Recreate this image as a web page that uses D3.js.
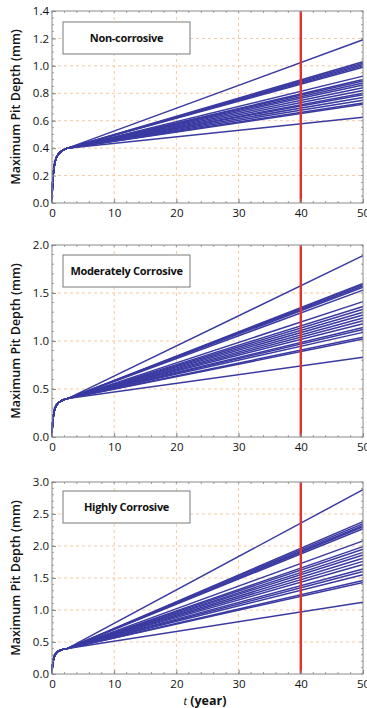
<!DOCTYPE html>
<html>
<head>
<meta charset="utf-8">
<script src="https://cdn.jsdelivr.net/npm/d3@7"></script>
<style>
  html, body { margin: 0; padding: 0; background: #fff; }
  svg { display: block; }
  text { font-family: "Open Sans", "Noto Sans", sans-serif; }
</style>
</head>
<body>
<svg id="chart" width="367" height="708"></svg>
<script>
// ---- Data ----
const panelTitles = ["Non-corrosive", "Moderately Corrosive", "Highly Corrosive"];
const xTicks = [0, 10, 20, 30, 40, 50];
const yMaxes = [1.4, 2.0, 3.0];
const yTicksTop = [0.0, 0.2, 0.4, 0.6, 0.8, 1.0, 1.2, 1.4];
const yTicksMid = [0.0, 0.5, 1.0, 1.5, 2.0];
const yTicksBot = [0.0, 0.5, 1.0, 1.5, 2.0, 2.5, 3.0];
const markerYear = 40;

// common initial (pit-initiation) portion of every curve
const earlyT     = [0, 0.03, 0.07, 0.12, 0.2, 0.3, 0.4, 0.5, 0.65, 0.8, 1.0, 1.25, 1.5, 1.75, 2.0, 2.5];
const earlyDepth = [0, 0.07, 0.12, 0.16, 0.21, 0.25, 0.28, 0.30, 0.325, 0.34, 0.355, 0.367, 0.377, 0.385, 0.391, 0.40];
const endYear = 50;
// depth at t = 50 years for each curve
const nonCorrosiveEnd = [1.19, 1.03, 1.02, 1.01, 1.00, 0.99, 0.925, 0.90, 0.89, 0.875,
                         0.86, 0.84, 0.82, 0.80, 0.79, 0.77, 0.75, 0.73, 0.72, 0.625];
const moderatelyEnd   = [1.89, 1.60, 1.59, 1.575, 1.56, 1.53, 1.41, 1.36, 1.33, 1.30,
                         1.27, 1.24, 1.21, 1.18, 1.14, 1.12, 1.09, 1.04, 1.02, 0.83];
const highlyEnd       = [2.88, 2.38, 2.35, 2.32, 2.30, 2.27, 2.08, 1.99, 1.95, 1.90,
                         1.86, 1.81, 1.76, 1.71, 1.64, 1.60, 1.55, 1.46, 1.43, 1.12];

const panelEnds = [nonCorrosiveEnd, moderatelyEnd, highlyEnd];
const panelYTicks = [yTicksTop, yTicksMid, yTicksBot];
const panelMinorStep = [0.05, 0.1, 0.1];

// ---- Layout ----
const svg = d3.select("#chart");
const left = 52, right = 363;
const panelTop = [11, 245, 482];
const panelH = 192;
const lineColor = "#3a3aa2";
const gridColor = "#f0c49a";
const frameColor = "#8a8a8a";

const x = d3.scaleLinear().domain([0, 50]).range([left, right]);

panelTitles.forEach((title, i) => {
  const top = panelTop[i], bottom = top + panelH;
  const y = d3.scaleLinear().domain([0, yMaxes[i]]).range([bottom, top]);
  const g = svg.append("g");

  // grid
  g.selectAll(".gx").data(xTicks.filter(t => t > 0 && t < 50)).join("line")
    .attr("x1", d => x(d)).attr("x2", d => x(d)).attr("y1", top).attr("y2", bottom)
    .attr("stroke", gridColor).attr("stroke-width", 0.9).attr("stroke-dasharray", "3,3");
  g.selectAll(".gy").data(panelYTicks[i].filter(t => t > 0 && t < yMaxes[i])).join("line")
    .attr("x1", left).attr("x2", right).attr("y1", d => y(d)).attr("y2", d => y(d))
    .attr("stroke", gridColor).attr("stroke-width", 0.9).attr("stroke-dasharray", "3,3");

  // curves
  const line = d3.line().x(d => x(d[0])).y(d => y(d[1])).curve(d3.curveLinear);
  const series = panelEnds[i].map(v => earlyT.map((t, k) => [t, earlyDepth[k]]).concat([[endYear, v]]));
  g.selectAll(".curve").data(series).join("path")
    .attr("d", line).attr("fill", "none")
    .attr("stroke", lineColor).attr("stroke-width", 1.5).attr("stroke-linejoin", "round");

  // red marker line
  g.append("line")
    .attr("x1", x(markerYear)).attr("x2", x(markerYear)).attr("y1", top).attr("y2", bottom)
    .attr("stroke", "#e2302e").attr("stroke-width", 2.4);

  // frame
  g.append("rect").attr("x", left).attr("y", top).attr("width", right - left).attr("height", panelH)
    .attr("fill", "none").attr("stroke", frameColor).attr("stroke-width", 1);

  // axes (ticks inward)
  const xMinor = d3.range(0, 50.001, 2);
  const yMinor = d3.range(0, yMaxes[i] + 1e-6, panelMinorStep[i]);
  const axB = d3.axisBottom(x).tickValues(xTicks).tickSize(-4).tickPadding(6).tickFormat(d3.format("d"));
  const gb = g.append("g").attr("transform", `translate(0,${bottom})`).call(axB);
  const axL = d3.axisLeft(y).tickValues(panelYTicks[i]).tickSize(-4).tickPadding(3).tickFormat(d3.format(".1f"));
  const gl = g.append("g").attr("transform", `translate(${left},0)`).call(axL);
  [gb, gl].forEach(a => {
    a.select(".domain").remove();
    a.selectAll(".tick line").attr("stroke", frameColor);
    a.selectAll("text").attr("font-size", 11.5).attr("fill", "#111");
  });
  // minor ticks on all sides
  const mt = g.append("g").attr("stroke", frameColor).attr("stroke-width", 0.8);
  mt.selectAll(".mb").data(xMinor).join("line")
    .attr("x1", d => x(d)).attr("x2", d => x(d)).attr("y1", bottom).attr("y2", bottom - 2);
  mt.selectAll(".mt").data(xMinor).join("line")
    .attr("x1", d => x(d)).attr("x2", d => x(d)).attr("y1", top).attr("y2", top + 2);
  mt.selectAll(".ml").data(yMinor).join("line")
    .attr("x1", left).attr("x2", left + 2).attr("y1", d => y(d)).attr("y2", d => y(d));
  mt.selectAll(".mr").data(yMinor).join("line")
    .attr("x1", right).attr("x2", right - 2).attr("y1", d => y(d)).attr("y2", d => y(d));

  // y-axis title
  g.append("text")
    .attr("transform", `translate(20,${top + panelH / 2}) rotate(-90)`)
    .attr("text-anchor", "middle").attr("font-size", 12.5).attr("font-weight", 600).attr("fill", "#111")
    .text("Maximum Pit Depth (mm)");

  // legend box
  const boxY = [22, 255, 491][i];
  g.append("rect").attr("x", 63).attr("y", boxY).attr("width", 127).attr("height", 32)
    .attr("fill", "#fff").attr("stroke", "#7a7a7a").attr("stroke-width", 1);
  g.append("text").attr("x", 126.5).attr("y", boxY + 16).attr("dy", "0.35em")
    .attr("text-anchor", "middle").attr("font-size", 11).attr("font-weight", 700).attr("fill", "#111")
    .attr("letter-spacing", -0.3)
    .text(title);
});

// x-axis title
const xt = svg.append("text").attr("x", 205).attr("y", 705).attr("text-anchor", "middle")
  .attr("font-size", 12.5).attr("fill", "#111");
xt.append("tspan").attr("font-style", "italic").attr("font-family", "Liberation Serif, serif").text("t");
xt.append("tspan").attr("font-weight", 700).text(" (year)");
</script>
</body>
</html>
